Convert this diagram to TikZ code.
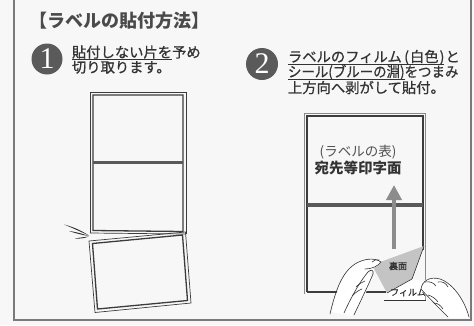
\documentclass[tikz,border=0pt]{standalone}
\usepackage{fontspec}
\usepackage{graphicx}
\newfontfamily\jp{Noto Sans CJK JP}
\newfontfamily\jpm[FakeBold=0.7]{Noto Sans CJK JP}
\newfontfamily\numfont{Liberation Serif}
\usetikzlibrary{arrows.meta}
\definecolor{ink}{HTML}{333333}
\definecolor{titlegray}{HTML}{4A4A4A}
\definecolor{framegray}{HTML}{7A7A7A}
\definecolor{badge}{HTML}{5A5A5A}
\definecolor{sheetline}{HTML}{3C3C3C}
\definecolor{sheetouter}{HTML}{8A8A8A}
\definecolor{arrowgray}{HTML}{8C8C8C}
\definecolor{backside}{HTML}{C4C4C4}
% underline drawn a little below the glyphs
\newcommand\uln[1]{\setbox0\hbox{#1}\rlap{\raisebox{-2.6pt}{\rule{\wd0}{0.9pt}}}\box0}
\begin{document}
\begin{tikzpicture}[x=1pt,y=-1pt,
  every node/.style={inner sep=0pt,outer sep=0pt,text=ink},
  txt/.style={font=\jpm\fontsize{14.3}{15}\selectfont,anchor=base west},
  numbadge/.style={circle,fill=badge,minimum size=31pt,text=white,
    font=\numfont\fontsize{30}{30}\selectfont},
  outerline/.style={draw=sheetline,line width=0.7pt},
  innerline/.style={draw=sheetline,line width=1.3pt},
  lightouter/.style={draw=sheetouter,line width=0.8pt},
  divider/.style={draw=sheetline!85,line width=3pt},
  handline/.style={draw=ink,line width=0.6pt,line cap=round,line join=round},
  smalltxt/.style={font=\jpm\fontsize{9}{9}\selectfont}]
\useasboundingbox (0,0) rectangle (474,325);
\fill[white!97!black] (0,0) rectangle (474,325);

% outer frame
\draw[framegray,line width=2pt] (14,0) -- (14,320) -- (471,320) -- (471,0);

% heading
\node[font=\jp\bfseries\fontsize{18}{18}\selectfont,text=titlegray,anchor=base west]
  (title) at (29,27) {【ラベルの貼付方法】};

% step badges
\node[numbadge] (b1) at (47,59) {\raisebox{-1pt}{1}};
\node[numbadge,minimum size=32pt] (b2) at (262,64) {\raisebox{-1pt}{2}};

% step 1 text
\node[txt] (s1a) at (72,57.5) {\uln{貼付しない片を}予め};
\node[txt] (s1b) at (72,72.5) {切り取ります。};

% step 2 text
\node[txt] (s2a) at (288,62) {\uln{ラベルのフィルム\,(\kern1pt 白色\kern1pt)}\kern1pt と};
\node[txt] (s2b) at (288,77) {\scalebox{0.94}[1]{\uln{シール(ブルーの淵)}をつまみ}};
\node[txt] (s2c) at (288,93) {上方向へ剥がして貼付。};

% ---- left sheet: two labels still attached ----
\draw[outerline] (90,233) -- (90,92) -- (186,92) -- (186,234);
\draw[innerline] (93,230.5) -- (93,95) -- (183,95) -- (183,231.5) -- cycle;
\draw[divider] (93,162) -- (183,162);
\draw[outerline] (90,233) -- (186,234);

% the cut-off label, tilted
\draw[outerline] (89,241) -- (185.5,232) -- (191,303) -- (95,312.5) -- cycle;
\draw[innerline] (92.5,243.5) -- (182.5,235) -- (187.5,300.5) -- (97.5,309) -- cycle;

% cut marks
\fill[ink] (64,224.5) .. controls (74,227) and (82,231) .. (89,235.5)
  .. controls (82,232.5) and (74,228.5) .. cycle;
\fill[ink] (69,231) .. controls (77,232) and (83,234) .. (89,236)
  .. controls (82,235) and (76,233.5) .. cycle;
\fill[ink] (75,238.5) .. controls (80,237.5) and (85,237) .. (89,236.5)
  .. controls (85,238) and (80,239) .. cycle;

% ---- right sheet: label being peeled ----
\draw[lightouter] (304,294) -- (304,113) -- (425.5,113) -- (425.5,300);
\draw[innerline,line width=1.8pt] (307,292) -- (307,116) -- (423,116) -- (423,250);
\draw[innerline,line width=1.8pt] (307,292) -- (386,292);
\draw[divider,line width=3.2pt] (307,205) -- (423,205);

\node[font=\jp\fontsize{13.5}{13.5}\selectfont,text=ink!85] (face) at (358,152) {(ラベルの表)};
\node[font=\jp\bfseries\fontsize{14.5}{14.5}\selectfont] (print) at (358,168) {宛先等印字面};

% upward arrow
\coordinate (arrbase) at (394,249);
\coordinate (arrtip) at (394,185);
\draw[arrowgray,line width=4pt,-{Triangle[width=15pt,length=15pt]}] (arrbase) -- (arrtip);

% peeled corner: back side of the film
\fill[backside] (372,265) -- (424,246) -- (412,279) -- (387,293) -- cycle;
\draw[ink,line width=0.6pt] (424,246) -- (412,279);
\node[smalltxt] (back) at (398,266) {裏面};
\fill[white] (387,293) -- (412,279) -- (425,282) -- (425,300) -- (392,301) -- cycle;
\draw[ink,line width=0.6pt] (387,293) -- (412,279);
\draw[ink,line width=0.6pt] (384,300) -- (425.5,300);
\node[smalltxt,anchor=center] (film) at (408,292.5) {フィルム};

% left hand pinching the film
\fill[white] (332,312) .. controls (336,292) and (342,272) .. (356,264)
  .. controls (364,259) and (374,258) .. (381,262)
  .. controls (377,268) and (370,270) .. (366,270)
  .. controls (372,274) and (372,282) .. (366,292)
  .. controls (362,300) and (358,308) .. (352,316) -- cycle;
\draw[handline] (330,314) .. controls (335,293) and (341,273) .. (355,264)
  .. controls (363,259) and (374,257) .. (381,262)
  .. controls (378,266) and (372,269) .. (365,269);
\draw[handline] (372,262) .. controls (374,260) and (377,259) .. (379,260);
\draw[handline] (344,313) .. controls (350,300) and (358,284) .. (368,272)
  .. controls (371,269) and (374,270) .. (373,274)
  .. controls (368,286) and (361,300) .. (354,315);
\draw[handline] (352,296) .. controls (356,292) and (359,290) .. (362,289);
\draw[handline] (356,287) .. controls (359,284) and (362,282) .. (365,281);

% right hand pinching the film
\fill[white] (420,288) .. controls (422,280) and (430,276) .. (440,279)
  .. controls (448,282) and (456,290) .. (462,300)
  .. controls (466,307) and (468,313) .. (469,318) -- (450,318)
  .. controls (440,310) and (428,300) .. cycle;
\draw[handline] (421,289) .. controls (422,281) and (430,276) .. (440,279)
  .. controls (449,282) and (457,291) .. (462,300)
  .. controls (466,307) and (468,313) .. (469,317);
\draw[handline] (421,289) .. controls (428,297) and (438,307) .. (448,317);
\draw[handline] (425,282) .. controls (430,281) and (434,283) .. (436,286);
\draw[handline] (438,282) .. controls (442,281) and (446,283) .. (448,287);
\draw[handline] (428,295) .. controls (432,296) and (436,299) .. (438,302);
\draw[handline] (434,303) .. controls (438,303) and (441,306) .. (443,309);
\end{tikzpicture}
\end{document}
